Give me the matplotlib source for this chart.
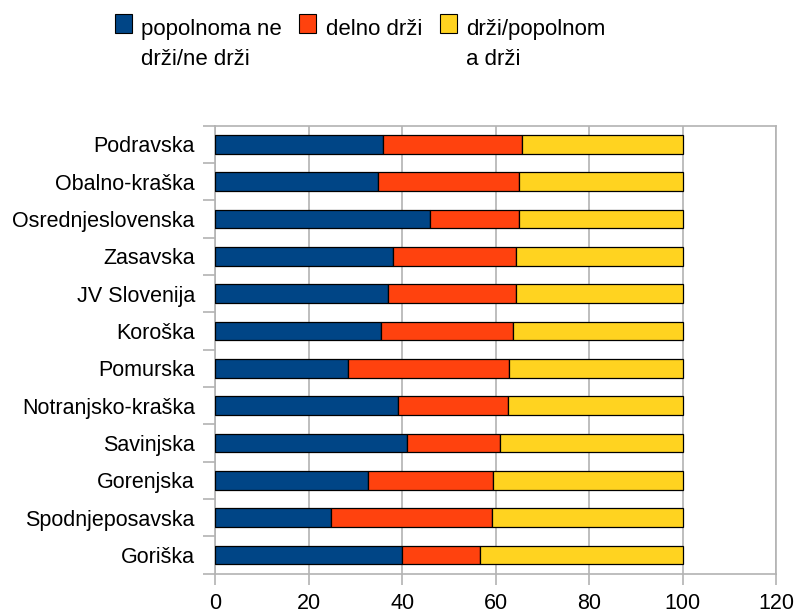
import matplotlib
matplotlib.use("Agg")
import numpy as np
from matplotlib import pyplot as plt
from matplotlib.patches import Rectangle

plt.rcParams['font.family'] = ['Liberation Sans', 'DejaVu Sans']

# regions, top to bottom as shown
regions = ["Podravska", "Obalno-kraška", "Osrednjeslovenska", "Zasavska",
           "JV Slovenija", "Koroška", "Pomurska", "Notranjsko-kraška",
           "Savinjska", "Gorenjska", "Spodnjeposavska", "Goriška"]
ne_drzi = [36.0, 34.9, 45.9, 38.0, 36.9, 35.6, 28.5, 39.2, 41.1, 32.8, 24.9, 40.0]
delno = [29.7, 30.1, 19.1, 26.4, 27.4, 28.1, 34.4, 23.4, 19.8, 26.6, 34.4, 16.7]
drzi = [34.3, 35.0, 35.0, 35.6, 35.7, 36.3, 37.1, 37.4, 39.1, 40.6, 40.7, 43.3]

labels = ["popolnoma ne\ndrži/ne drži", "delno drži", "drži/popolnom\na drži"]
colors = ["#004586", "#ff420e", "#ffd320"]
xticks = [0, 20, 40, 60, 80, 100, 120]

W, H = 794, 616
fig = plt.figure(figsize=(W / 100, H / 100), dpi=100)
ax = fig.add_axes([215 / W, 1 - 573.7 / H, (776.2 - 215) / W, (573.7 - 125.6) / H])

y = np.arange(len(regions))
left = np.zeros(len(regions))
for vals, c in zip([ne_drzi, delno, drzi], colors):
    ax.barh(y, vals, left=left, height=0.5, color=c, edgecolor="black",
            linewidth=0.9, zorder=3)
    left = left + np.array(vals)

ax.set_xlim(0, 120)
ax.set_ylim(len(regions) - 0.5, -0.5)
ax.set_xticks(xticks)
ax.set_xticklabels([str(v) for v in xticks], fontsize=15.5)
ax.set_yticks(y)
ax.set_yticklabels(regions, fontsize=15.5)
ax.set_yticks(np.arange(len(regions) + 1) - 0.5, minor=True)

ax.tick_params(axis='y', which='major', length=0, pad=14.5)
ax.tick_params(axis='y', which='minor', length=9, color="#b3b3b3", width=1.2)
ax.tick_params(axis='x', which='major', length=8, color="#b3b3b3", width=1.2, pad=6)
ax.grid(axis='x', color="#b3b3b3", linewidth=1.2, zorder=0)
for s in ax.spines.values():
    s.set_color("#b3b3b3")
    s.set_linewidth(1.2)

# legend at top
hx = [115, 299, 440]
tx = [141, 326, 466]
for i in range(3):
    fig.add_artist(Rectangle((hx[i] / W, 1 - 33 / H), 17 / W, 19 / H,
                             transform=fig.transFigure, facecolor=colors[i],
                             edgecolor="black", linewidth=0.8))
    fig.text(tx[i] / W, 1 - 19 / H, labels[i], fontsize=16, va='top',
             ha='left', linespacing=1.55)

fig.savefig("out.png", dpi=100)
